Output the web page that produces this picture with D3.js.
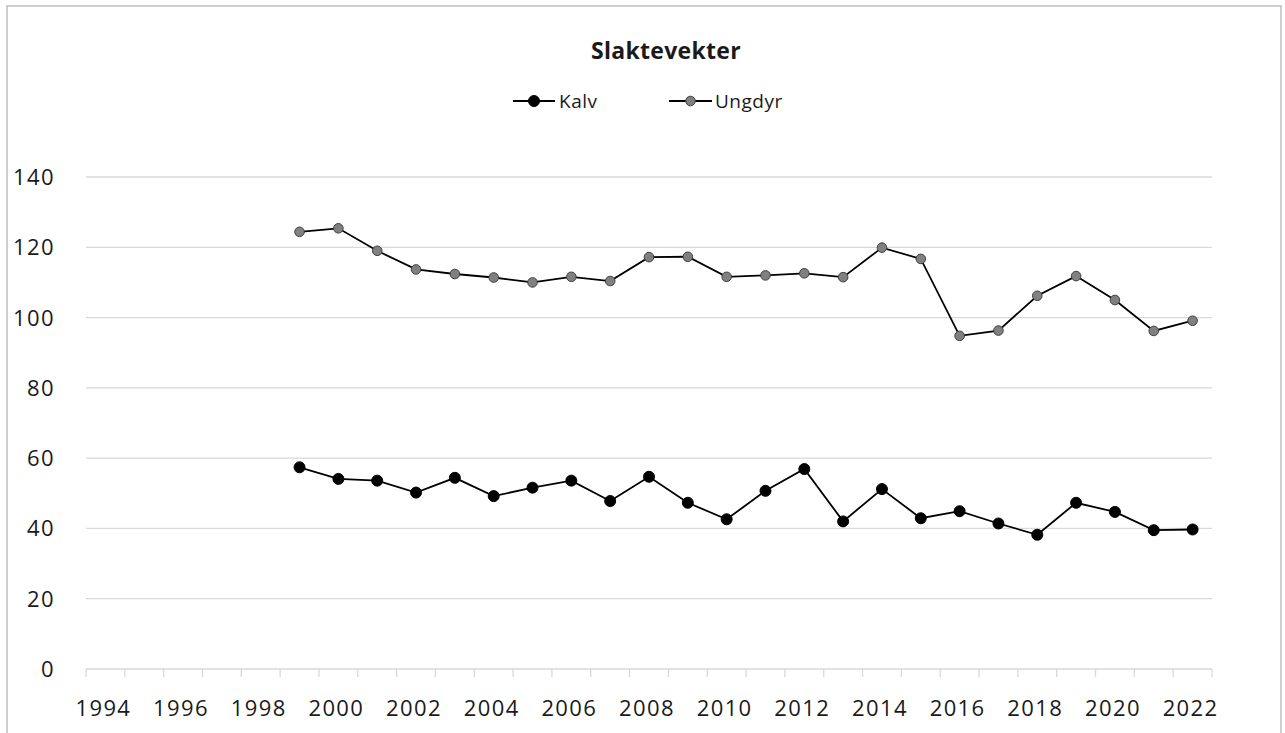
<!DOCTYPE html>
<html>
<head>
<meta charset="utf-8">
<script src="https://cdn.jsdelivr.net/npm/d3@7"></script>
<style>
  html, body { margin: 0; padding: 0; background: #fff; }
  svg { display: block; font-family: "Open Sans", "Noto Sans", sans-serif; }
</style>
</head>
<body>
<svg id="chart" width="1285" height="733"></svg>
<script>
const years = d3.range(1994, 2023).map(String);
const dataYears = d3.range(1999, 2023).map(String);
const kalv = [57.4, 54.1, 53.6, 50.2, 54.4, 49.2, 51.6, 53.6, 47.8, 54.7, 47.3, 42.6, 50.7, 56.9, 42.0, 51.2, 42.9, 44.9, 41.4, 38.2, 47.3, 44.7, 39.5, 39.7];
const ungdyr = [124.4, 125.4, 119.0, 113.7, 112.4, 111.4, 110.0, 111.6, 110.4, 117.2, 117.3, 111.6, 112.0, 112.6, 111.5, 119.9, 116.7, 94.8, 96.3, 106.2, 111.8, 105.0, 96.2, 99.1];
const yTicks = [0, 20, 40, 60, 80, 100, 120, 140];
const title = "Slaktevekter";
const seriesNames = ["Kalv", "Ungdyr"];

const svg = d3.select("#chart");
const plot = { left: 86, right: 1212, top: 177, bottom: 669 };

// outer frame
svg.append("rect").attr("x", 7).attr("y", 6).attr("width", 1274).attr("height", 740)
  .attr("fill", "#fff").attr("stroke", "#bfbfbf").attr("stroke-width", 1.5);

const x = d3.scaleBand().domain(years).range([plot.left, plot.right]).padding(0);
const y = d3.scaleLinear().domain([0, 140]).range([plot.bottom, plot.top]);

// gridlines
svg.append("g").selectAll("line").data(yTicks.filter(d => d > 0)).join("line")
  .attr("x1", plot.left).attr("x2", plot.right)
  .attr("y1", d => y(d)).attr("y2", d => y(d))
  .attr("stroke", "#d9d9d9").attr("stroke-width", 1.3);

// y labels
svg.append("g").selectAll("text").data(yTicks).join("text")
  .attr("x", 55).attr("y", d => y(d) + 8)
  .attr("text-anchor", "end").attr("font-size", 22).attr("letter-spacing", 1.4)
  .attr("fill", "#1a1a1a")
  .text(d => d);

// x axis line
svg.append("line").attr("x1", plot.left).attr("x2", plot.right)
  .attr("y1", plot.bottom).attr("y2", plot.bottom)
  .attr("stroke", "#d9d9d9").attr("stroke-width", 1.3);

// tick marks at band boundaries
const boundaries = years.map(d => x(d)).concat([x(years[years.length - 1]) + x.bandwidth()]);
svg.append("g").selectAll("line").data(boundaries).join("line")
  .attr("x1", d => d).attr("x2", d => d)
  .attr("y1", plot.bottom).attr("y2", plot.bottom + 8)
  .attr("stroke", "#d9d9d9").attr("stroke-width", 1.3);

// x labels (every other year)
svg.append("g").selectAll("text").data(years.filter((d, i) => i % 2 === 0)).join("text")
  .attr("x", d => x(d) + x.bandwidth() / 2 - 2).attr("y", 716)
  .attr("text-anchor", "middle").attr("font-size", 22).attr("letter-spacing", 1.4)
  .attr("fill", "#1a1a1a")
  .text(d => d);

// title
svg.append("text").attr("x", 666).attr("y", 59)
  .attr("text-anchor", "middle").attr("font-size", 23).attr("font-weight", "bold")
  .attr("letter-spacing", 0.3)
  .attr("fill", "#1a1a1a").text(title);

const line = d3.line().x(d => x(d.year) + x.bandwidth() / 2).y(d => y(d.v));
const series = [
  { name: seriesNames[0], values: kalv, fill: "#000", stroke: "#000", r: 5.5 },
  { name: seriesNames[1], values: ungdyr, fill: "#808080", stroke: "#404040", r: 4.8 }
];

series.forEach(s => {
  const pts = s.values.map((v, i) => ({ year: dataYears[i], v }));
  svg.append("path").datum(pts).attr("d", line)
    .attr("fill", "none").attr("stroke", "#000").attr("stroke-width", 1.8);
  svg.append("g").selectAll("circle").data(pts).join("circle")
    .attr("cx", d => x(d.year) + x.bandwidth() / 2).attr("cy", d => y(d.v))
    .attr("r", s.r).attr("fill", s.fill).attr("stroke", s.stroke).attr("stroke-width", 1);
});

// legend
const legendItems = [
  { s: series[0], x0: 513, x1: 555, tx: 559 },
  { s: series[1], x0: 669, x1: 712, tx: 715 }
];
const ly = 101;
legendItems.forEach(l => {
  svg.append("line").attr("x1", l.x0).attr("x2", l.x1).attr("y1", ly).attr("y2", ly)
    .attr("stroke", "#000").attr("stroke-width", 1.8);
  svg.append("circle").attr("cx", (l.x0 + l.x1) / 2).attr("cy", ly)
    .attr("r", l.s.r).attr("fill", l.s.fill).attr("stroke", l.s.stroke).attr("stroke-width", 1);
  svg.append("text").attr("x", l.tx).attr("y", 108)
    .attr("font-size", 19).attr("letter-spacing", 0.5)
    .attr("fill", "#1a1a1a").text(l.s.name);
});
</script>
</body>
</html>
